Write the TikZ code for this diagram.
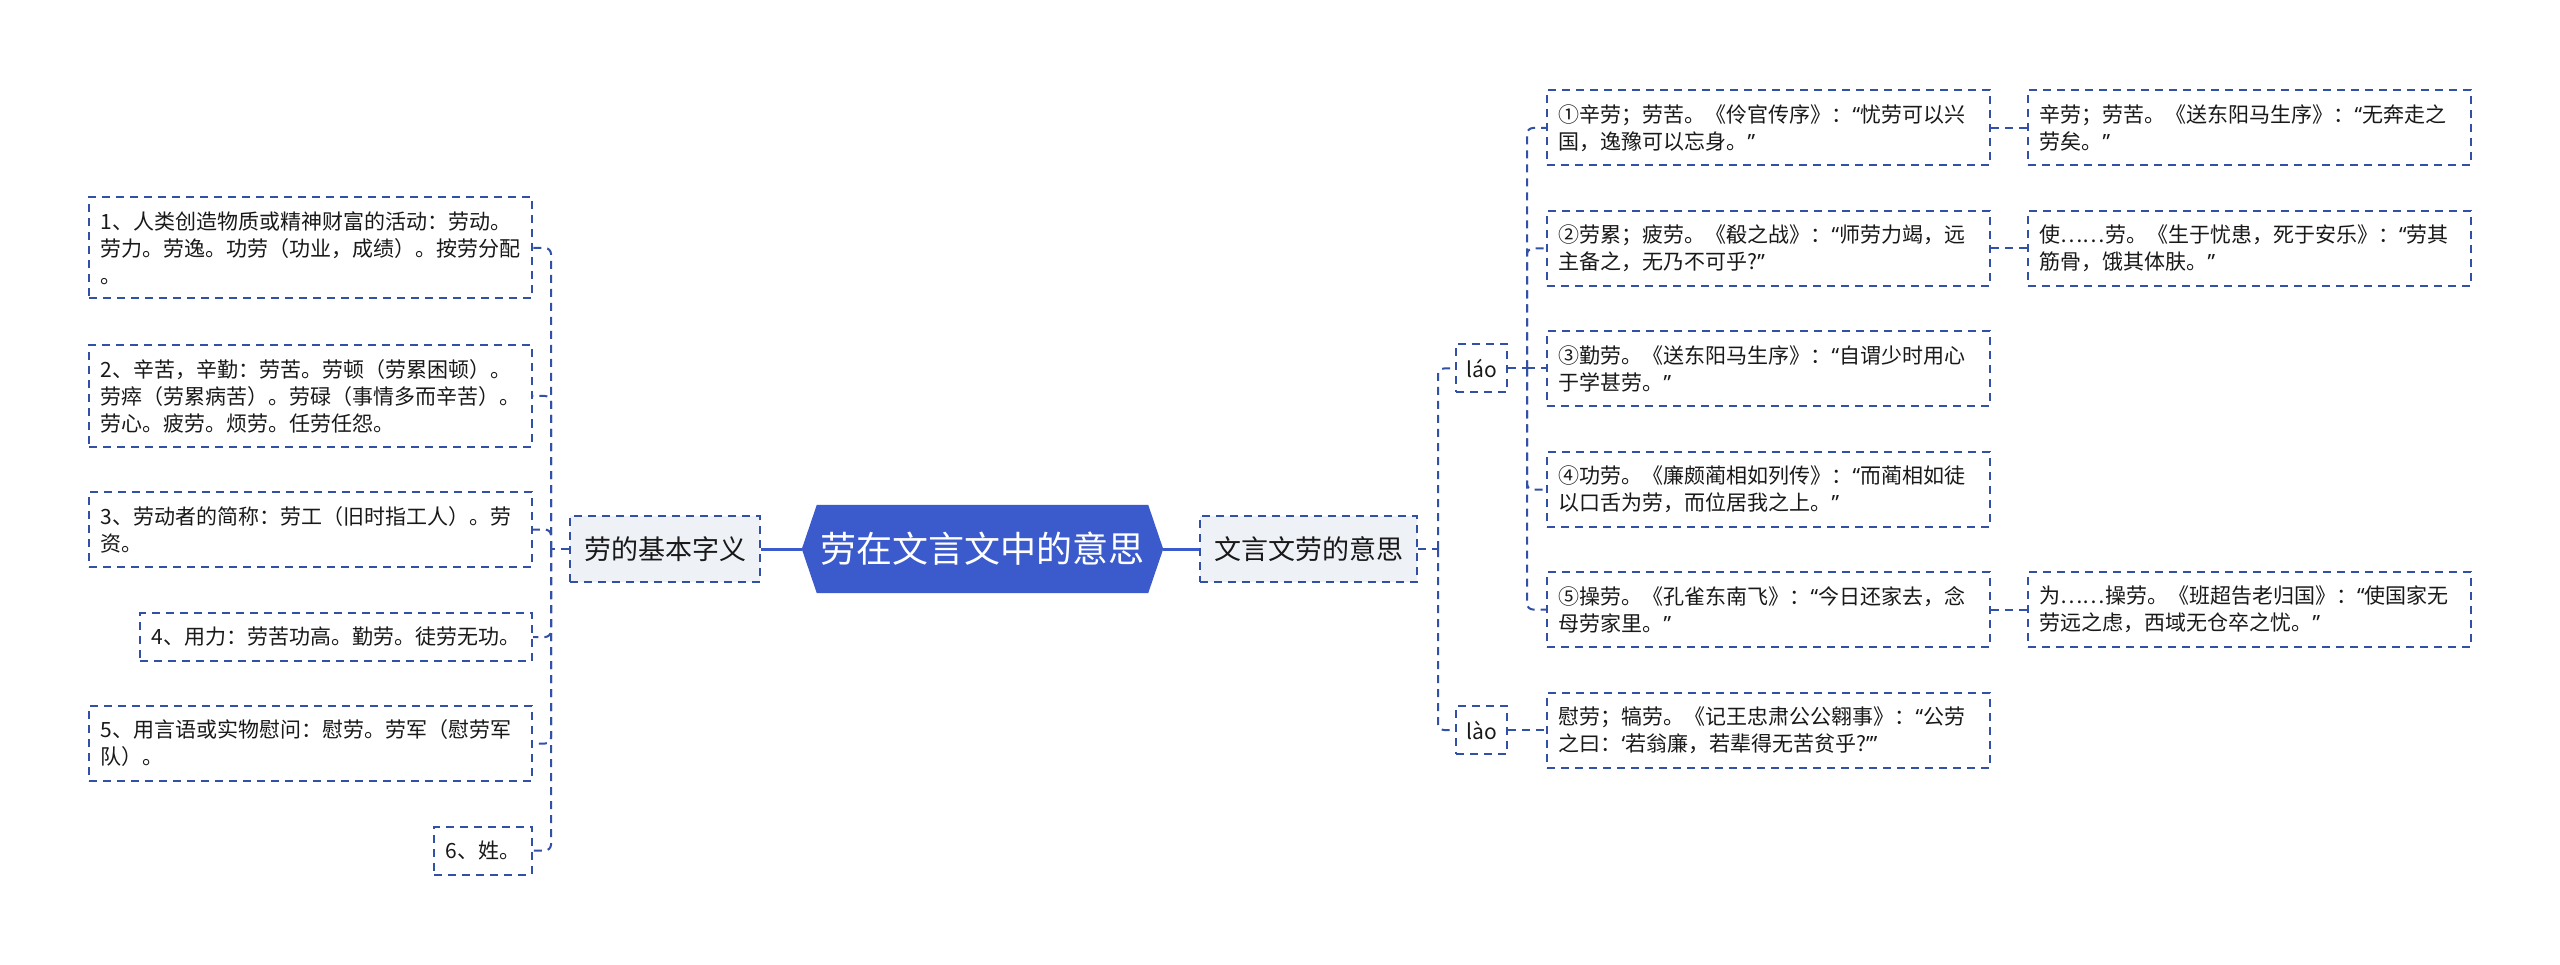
\documentclass[tikz,border=0pt]{standalone}
\usepackage{fontspec}
\setmainfont{Noto Sans CJK SC}
\newfontfamily\qf{Noto Sans}
\newcommand{\lqq}{{\qf “}}
\newcommand{\rqq}{{\qf ”}}
\newcommand{\lsq}{{\qf ‘}}
\newcommand{\rsq}{{\qf ’}}
\usetikzlibrary{backgrounds,calc}
\definecolor{lineblue}{RGB}{50,80,165}
\definecolor{rootblue}{RGB}{59,91,204}
\definecolor{lvlfill}{RGB}{238,241,246}
\definecolor{txt}{RGB}{25,25,25}
\begin{document}
\begin{tikzpicture}[x=1pt,y=-1pt,
  leaf/.style={draw=lineblue, dash pattern=on 8pt off 6pt, line width=2pt, fill=white, text=txt,
    font=\fontsize{21pt}{27pt}\selectfont, align=left, inner xsep=11.5pt, inner ysep=0pt},
  wide/.style={leaf, text width=420pt},
  hthree/.style={minimum height=101pt},
  htwo/.style={minimum height=75pt},
  hone/.style={minimum height=48pt},
  lvl/.style={draw=lineblue, dash pattern=on 8pt off 6pt, line width=2pt, fill=lvlfill, text=txt,
    font=\fontsize{27pt}{32pt}\selectfont, inner xsep=0pt, inner ysep=0pt, minimum height=66pt},
  pin/.style={leaf, minimum width=51pt, inner xsep=0pt, align=center},
  conn/.style={draw=lineblue, line width=2pt, dash pattern=on 8pt off 6pt},
  rc/.style={rounded corners=6pt},
  mainconn/.style={draw=rootblue, line width=3pt}
]
\begin{scope}[on background layer]
\fill[white] (0,0) rectangle (2560,965);
\end{scope}
\useasboundingbox (0,0) rectangle (2560,965);

% root
\node[text=white, font=\fontsize{36pt}{40pt}\selectfont, minimum width=361pt, minimum height=88pt, inner sep=0pt] (root) at (982.5,549) {劳在文言文中的意思};
\begin{scope}[on background layer]
\fill[rootblue] (root.west) -- ([xshift=15pt]root.north west) -- ([xshift=-15pt]root.north east) -- (root.east) -- ([xshift=-15pt]root.south east) -- ([xshift=15pt]root.south west) -- cycle;
\end{scope}

% level 1
\node[lvl, minimum width=190pt] (basic) at (665,549) {劳的基本字义};
\node[lvl, minimum width=217pt] (yiyi) at (1308.5,549) {文言文劳的意思};

% left leaves
\node[wide, hthree, anchor=east] (c1) at (533,248) {1、人类创造物质或精神财富的活动：劳动。\\劳力。劳逸。功劳（功业，成绩）。按劳分配\\。};
\node[wide, hthree, anchor=east] (c2) at (533,396) {2、辛苦，辛勤：劳苦。劳顿（劳累困顿）。\\劳瘁（劳累病苦）。劳碌（事情多而辛苦）。\\劳心。疲劳。烦劳。任劳任怨。};
\node[wide, htwo, anchor=east] (c3) at (533,529.5) {3、劳动者的简称：劳工（旧时指工人）。劳\\资。};
\node[leaf, hone, anchor=east] (c4) at (533,637) {4、用力：劳苦功高。勤劳。徒劳无功。};
\node[wide, htwo, anchor=east] (c5) at (533,743.5) {5、用言语或实物慰问：慰劳。劳军（慰劳军\\队）。};
\node[leaf, hone, anchor=east] (c6) at (533,850.5) {6、姓。};

% pinyin
\node[pin, hone] (lao2) at (1481.5,368.5) {láo};
\node[pin, hone] (lao4) at (1481.5,730) {lào};

% middle leaves
\node[wide, htwo, anchor=west] (m1) at (1546,128) {①辛劳；劳苦。《伶官传序》：\lqq 忧劳可以兴\\国，逸豫可以忘身。\rqq};
\node[wide, htwo, anchor=west] (m2) at (1546,248.5) {②劳累；疲劳。《殽之战》：\lqq 师劳力竭，远\\主备之，无乃不可乎?\rqq};
\node[wide, htwo, anchor=west] (m3) at (1546,368.5) {③勤劳。《送东阳马生序》：\lqq 自谓少时用心\\于学甚劳。\rqq};
\node[wide, htwo, anchor=west] (m4) at (1546,489.5) {④功劳。《廉颇蔺相如列传》：\lqq 而蔺相如徒\\以口舌为劳，而位居我之上。\rqq};
\node[wide, htwo, anchor=west] (m5) at (1546,609.5) {⑤操劳。《孔雀东南飞》：\lqq 今日还家去，念\\母劳家里。\rqq};
\node[wide, htwo, anchor=west] (m6) at (1546,730) {慰劳；犒劳。《记王忠肃公公翱事》：\lqq 公劳\\之曰：\lsq 若翁廉，若辈得无苦贫乎?\rsq\rqq};

% right leaves
\node[wide, htwo, anchor=west] (r1) at (2027,128) {辛劳；劳苦。《送东阳马生序》：\lqq 无奔走之\\劳矣。\rqq};
\node[wide, htwo, anchor=west] (r2) at (2027,248.5) {使……劳。《生于忧患，死于安乐》：\lqq 劳其\\筋骨，饿其体肤。\rqq};
\node[wide, htwo, anchor=west] (r3) at (2027,609.5) {为……操劳。《班超告老归国》：\lqq 使国家无\\劳远之虑，西域无仓卒之忧。\rqq};

% main connectors
\draw[mainconn] (root.west) -- (basic.east);
\draw[mainconn] (root.east) -- (yiyi.west);

% left tree
\coordinate (lj) at ($(basic.west)+(-18,0)$);
\draw[conn] (basic.west) -- (lj);
\foreach \n in {c1,c2,c3,c4,c5,c6} \draw[conn, rc] (lj) |- (\n.east);

% right tree
\coordinate (rj) at ($(yiyi.east)+(20,0)$);
\draw[conn] (yiyi.east) -- (rj);
\draw[conn, rc] (rj) |- (lao2.west);
\draw[conn, rc] (rj) |- (lao4.west);

\coordinate (mj) at ($(lao2.east)+(19,0)$);
\draw[conn] (lao2.east) -- (mj);
\foreach \n in {m1,m2,m4,m5} \draw[conn, rc] (mj) |- (\n.west);
\draw[conn] (mj) -- (m3.west);
\draw[conn] (lao4.east) -- (m6.west);

\draw[conn] (m1.east) -- (r1.west);
\draw[conn] (m2.east) -- (r2.west);
\draw[conn] (m5.east) -- (r3.west);
\end{tikzpicture}
\end{document}
